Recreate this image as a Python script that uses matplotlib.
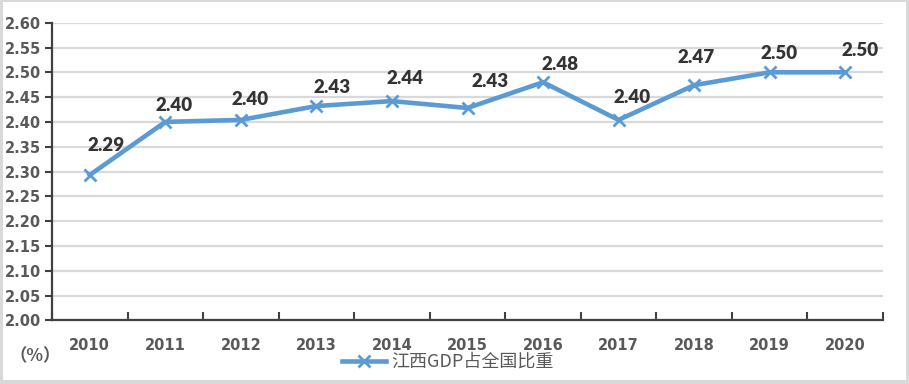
import matplotlib
matplotlib.use("Agg")
import matplotlib.pyplot as plt
from matplotlib.patches import Rectangle
from matplotlib.lines import Line2D

years = ["2010", "2011", "2012", "2013", "2014", "2015", "2016", "2017", "2018", "2019", "2020"]
share = [2.293, 2.400, 2.404, 2.432, 2.442, 2.428, 2.480, 2.404, 2.474, 2.500, 2.500]
series_name = "江西GDP占全国比重"
y_ticks = [2.00, 2.05, 2.10, 2.15, 2.20, 2.25, 2.30, 2.35, 2.40, 2.45, 2.50, 2.55, 2.60]

# label offsets (points) – placement only
label_offsets = [(11.5, 21), (6.5, 11.5), (6.5, 14.5), (11, 13.5), (9.5, 16), (16.5, 19),
                 (12, 13), (9.5, 16), (1.5, 20), (7, 13.5), (11, 16)]

W, H = 909, 384
fig = plt.figure(figsize=(W / 100, H / 100), dpi=100)
fig.patch.set_facecolor("#d9d9d9")
fig.patches.append(Rectangle((3 / W, 4 / H), 903 / W, 378 / H, transform=fig.transFigure,
                             facecolor="white", edgecolor="none", zorder=-5))

ax = fig.add_axes([52 / W, (384 - 320.3) / H, 831 / W, 297.6 / H])
ax.set_zorder(2)
ax.patch.set_alpha(0)

blue = "#5B9BD5"
x = list(range(len(years)))
ax.plot(x, share, color=blue, lw=3.3, marker="x", ms=8, mew=2, zorder=3, clip_on=False)

for xi, v, (dx, dy) in zip(x, share, label_offsets):
    ax.annotate(f"{v:.2f}", (xi, v), xytext=(dx, dy), textcoords="offset points",
                ha="center", va="center", fontsize=13.5, fontweight="heavy",
                family="Lato", color="#333333")

ax.set_ylim(2.0, 2.6)
ax.set_xlim(-0.5, len(years) - 0.5)
ax.set_yticks(y_ticks)
ax.set_yticklabels([f"{t:.2f}" for t in y_ticks])
ax.yaxis.grid(True, color="#d9d9d9", lw=1.6)
ax.set_axisbelow(True)

ax.set_xticks(x)
ax.set_xticklabels(years)
ax.set_xticks([i - 0.5 for i in range(len(years) + 1)], minor=True)
ax.tick_params(axis="x", which="major", length=0, pad=13, labelsize=10.5, labelcolor="#595959")
ax.tick_params(axis="x", which="minor", direction="in", length=6, width=1.5, color="#404040")
ax.tick_params(axis="y", direction="out", length=5, width=1.5, color="#404040",
               labelsize=10.5, labelcolor="#595959", pad=3)
for lab in ax.get_xticklabels() + ax.get_yticklabels():
    lab.set_fontweight("bold")
    lab.set_family("DejaVu Sans")

for s in ["top", "right"]:
    ax.spines[s].set_visible(False)
for s in ["left", "bottom"]:
    ax.spines[s].set_color("#404040")
    ax.spines[s].set_linewidth(1.6)

fig.text(35 / W, 1 - 356 / H, "（%）", ha="center", va="center", fontsize=12.5,
         family=["Noto Sans CJK SC"], fontweight="bold", color="#595959")

handle = Line2D([], [], color=blue, lw=3.3, marker="x", ms=8, mew=2)
leg = fig.legend([handle], [series_name], loc="center", bbox_to_anchor=(448 / W, 1 - 362 / H),
                 frameon=False, handlelength=2.4, handletextpad=0.3,
                 prop={"family": ["Noto Sans CJK SC", "DejaVu Sans"], "size": 13})
for t in leg.get_texts():
    t.set_color("#595959")

fig.savefig("out.png", dpi=100, facecolor=fig.get_facecolor())
